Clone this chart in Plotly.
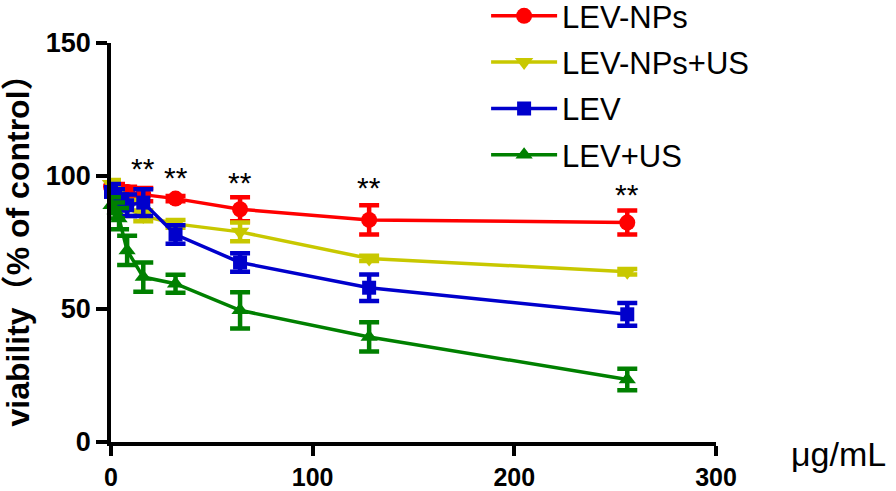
import plotly.graph_objects as go

conc = [0, 2, 4, 8, 16, 32, 64, 128, 256]

names = ["LEV-NPs", "LEV-NPs+US", "LEV", "LEV+US"]
lev_nps = [96, 95, 94, 94, 93, 91.5, 87.5, 83.5, 82.5]
lev_nps_err = [2, 2, 2, 2, 2.5, 1, 4.5, 5.5, 4.5]
lev_nps_us = [97, 93, 90, 88, 85, 82, 79, 69, 64]
lev_nps_us_err = [1.5, 2, 2, 3, 2, 1.5, 3.5, 1, 1]
lev = [94, 92, 90, 89, 90, 78, 67.5, 58, 48]
lev_err = [3, 3, 3, 4, 5, 3.5, 3.5, 5, 4.3]
lev_us = [89, 87, 84, 72, 62, 59.5, 49.5, 39.5, 23.5]
lev_us_err = [3, 3, 4, 5.5, 5.5, 3.4, 6.8, 5.5, 4]

values = [lev_nps, lev_nps_us, lev, lev_us]
errors = [lev_nps_err, lev_nps_us_err, lev_err, lev_us_err]
colors = ["#FF0000", "#C8C800", "#0000CC", "#008000"]
symbols = ["circle", "triangle-down", "square", "triangle-up"]
sizes = [16, 16, 14, 15]

star_x = [16, 32, 64, 128, 256]
star_y = [103, 99.5, 97.5, 95.5, 93]

x_ticks = [0, 100, 200, 300]
y_ticks = [0, 50, 100, 150]

fig = go.Figure()
for i in range(4):
    fig.add_trace(go.Scatter(
        x=conc, y=values[i], name=names[i], mode="lines+markers",
        line=dict(color=colors[i], width=3.5),
        marker=dict(symbol=symbols[i], size=sizes[i], color=colors[i]),
        error_y=dict(type="data", array=errors[i], color=colors[i],
                     thickness=4.5, width=10),
        cliponaxis=False, legendgroup=names[i],
    ))

for sx, sy in zip(star_x, star_y):
    fig.add_annotation(x=sx, y=sy, text="**", showarrow=False,
                       font=dict(size=30, color="black",
                                 family="Liberation Sans, Arial"))

fig.add_annotation(xref="paper", yref="paper", x=1.12, y=-0.03,
                   xanchor="left", yanchor="middle", text="μg/mL",
                   showarrow=False,
                   font=dict(size=34, color="black",
                             family="Liberation Sans, Arial"))

y_font = dict(size=27, color="black", family="Liberation Sans, Arial")
x_font = dict(size=25, color="black", family="Liberation Sans, Arial")
fig.update_xaxes(range=[0, 300], tickvals=x_ticks,
                 ticktext=["<b>%d</b>" % v for v in x_ticks],
                 showline=True, linewidth=3.5, linecolor="black",
                 ticks="outside", ticklen=10, tickwidth=3.5, tickcolor="black",
                 showgrid=False, zeroline=False, tickfont=x_font)
fig.update_yaxes(range=[0, 150], tickvals=y_ticks,
                 ticktext=["<b>%d</b>" % v for v in y_ticks],
                 showline=True, linewidth=3.5, linecolor="black",
                 ticks="outside", ticklen=11, tickwidth=3.5, tickcolor="black",
                 showgrid=False, zeroline=False, tickfont=y_font,
                 title=dict(text="<b>viability（% of control）</b>",
                            font=dict(size=32, color="black",
                                      family="Liberation Sans, Noto Sans CJK SC, Arial"),
                            standoff=8))

fig.update_layout(
    width=896, height=491,
    margin=dict(l=111, r=180, t=43, b=49, autoexpand=False),
    plot_bgcolor="white", paper_bgcolor="white",
    legend=dict(x=0.62, y=1.135, xanchor="left", yanchor="top",
                font=dict(size=31, color="black",
                          family="Liberation Sans, Arial"),
                tracegroupgap=3, itemwidth=66, bgcolor="rgba(0,0,0,0)"),
)

fig.write_html("out.html", config={"displayModeBar": False},
               post_script="document.body.style.margin='0';document.body.style.padding='0';")
